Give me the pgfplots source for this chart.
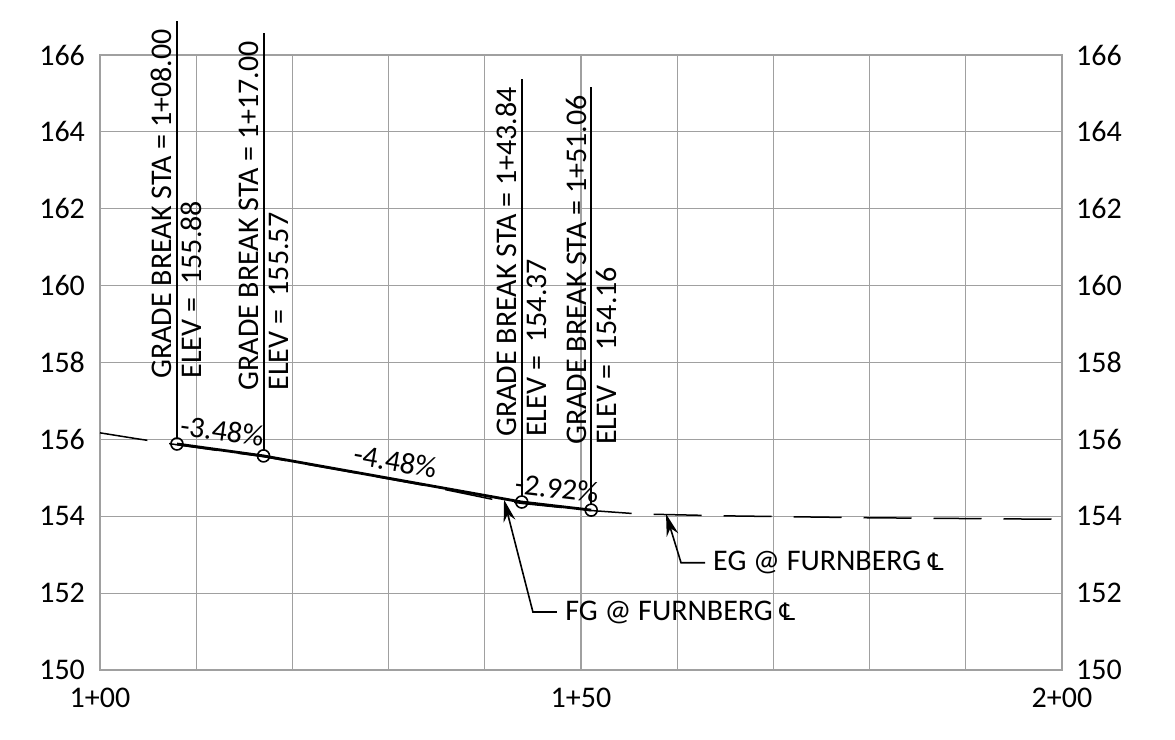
\documentclass[border=0pt]{standalone}
\usepackage{fontspec}
\setmainfont{Carlito}
\newfontfamily\symfont{DejaVu Sans}
\usepackage{pgfplots}
\pgfplotsset{compat=1.18}
\usetikzlibrary{arrows.meta}
\definecolor{gridgray}{RGB}{160,160,160}
\newcommand{\CL}{{\symfont\fontsize{12}{14}\selectfont\char"2104}}

\begin{document}
\begin{tikzpicture}[font=\fontsize{15}{18}\selectfont]
\path[use as bounding box] (-50pt,-35pt) rectangle (537.5pt,335pt);

% main profile axis
\begin{axis}[
    at={(0,0)}, anchor=south west,
    scale only axis, width=481pt, height=307.5pt,
    xmin=100, xmax=200, ymin=150, ymax=166,
    xtick={100,110,...,200},
    xticklabels={1+00,,,,,1+50,,,,,2+00},
    ytick={150,152,...,166},
    major tick length=0pt,
    grid=major,
    grid style={gridgray, line width=0.6pt},
    axis line style={gridgray, line width=0.6pt},
    ticklabel style={font=\fontsize{15}{18}\selectfont},
    xticklabel style={yshift=-5.5pt},
    yticklabel style={xshift=-4pt},
    /pgf/number format/assume math mode=true,
    clip=false,
]

% existing ground
\addplot[black, line width=0.75pt, dash pattern=on 24pt off 11pt] coordinates {
    (100,156.17) (104,156.01) (108,155.86) (112,155.72) (117,155.55)
    (125,155.20) (134,154.79) (141,154.43) (144,154.33) (151,154.15)
    (156,154.06) (165,154.01) (180,153.96) (200,153.92)
};

% finished grade
\addplot[black, line width=1.4pt] coordinates {
    (108,155.88) (117,155.57) (143.84,154.37) (151.06,154.16)
};
\addplot[only marks, mark=o, mark size=3pt, mark options={black, line width=0.8pt}] coordinates {
    (108,155.88) (117,155.57) (143.84,154.37) (151.06,154.16)
};

% grade break leaders
\addplot[black, line width=1pt] coordinates {(108,156.04) (108,166.88)};
\addplot[black, line width=1pt] coordinates {(117,155.73) (117,166.57)};
\addplot[black, line width=1pt] coordinates {(143.84,154.53) (143.84,165.37)};
\addplot[black, line width=1pt] coordinates {(151.06,154.32) (151.06,165.16)};

% one x unit is 4.81pt: -0.52 -> 2.5pt left, +2.6 -> 12.5pt right
\node[rotate=90, anchor=base west, inner sep=0pt] at (axis cs:107.48,157.57) {GRADE BREAK STA = 1+08.00};
\node[rotate=90, anchor=base west, inner sep=0pt] at (axis cs:110.6,157.57) {ELEV = \ 155.88};
\node[rotate=90, anchor=base west, inner sep=0pt] at (axis cs:116.48,157.26) {GRADE BREAK STA = 1+17.00};
\node[rotate=90, anchor=base west, inner sep=0pt] at (axis cs:119.6,157.26) {ELEV = \ 155.57};
\node[rotate=90, anchor=base west, inner sep=0pt] at (axis cs:143.32,156.06) {GRADE BREAK STA = 1+43.84};
\node[rotate=90, anchor=base west, inner sep=0pt] at (axis cs:146.44,156.06) {ELEV = \ 154.37};
\node[rotate=90, anchor=base west, inner sep=0pt] at (axis cs:150.54,155.85) {GRADE BREAK STA = 1+51.06};
\node[rotate=90, anchor=base west, inner sep=0pt] at (axis cs:153.66,155.85) {ELEV = \ 154.16};

% grade percentages
\node[rotate=-8] at (axis cs:112.7,156.22) {-3.48\%};
\node[rotate=-10] at (axis cs:130.7,155.43) {-4.48\%};
\node[rotate=-6.7] at (axis cs:147.5,154.73) {-2.92\%};

% callouts
\draw[black, line width=0.8pt, -{Stealth[length=11pt,width=6pt]}]
    (axis cs:147.5,151.51) -- (axis cs:145.0,151.51) -- (axis cs:142.0,154.43);
\node[anchor=west, inner sep=0pt] at (axis cs:148.34,151.51) {FG @ FURNBERG \CL};
\draw[black, line width=0.8pt, -{Stealth[length=11pt,width=6pt]}]
    (axis cs:162.9,152.79) -- (axis cs:160.4,152.79) -- (axis cs:158.84,154.06);
\node[anchor=west, inner sep=0pt] at (axis cs:163.7,152.79) {EG @ FURNBERG \CL};
\end{axis}

% right-hand elevation labels
\begin{axis}[
    at={(0,0)}, anchor=south west,
    scale only axis, width=481pt, height=307.5pt,
    xmin=100, xmax=200, ymin=150, ymax=166,
    hide x axis,
    axis y line*=right,
    y axis line style={draw=none},
    ytick={150,152,...,166},
    major tick length=0pt,
    ticklabel style={font=\fontsize{15}{18}\selectfont},
    yticklabel style={xshift=3.5pt},
    /pgf/number format/assume math mode=true,
]
\end{axis}
\end{tikzpicture}
\end{document}
